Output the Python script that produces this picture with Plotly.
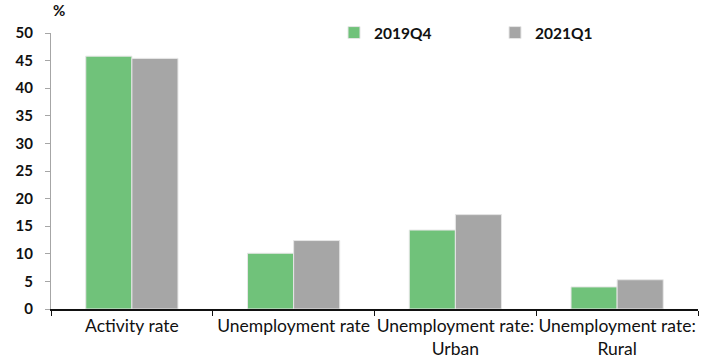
import plotly.graph_objects as go

categories = [
    "Activity rate",
    "Unemployment rate",
    "Unemployment rate:<br>Urban",
    "Unemployment rate:<br>Rural",
]
series_2019q4 = [45.8, 10.1, 14.3, 4.0]
series_2021q1 = [45.4, 12.4, 17.1, 5.3]
y_ticks = [0, 5, 10, 15, 20, 25, 30, 35, 40, 45, 50]

GREEN = "#70C27A"
GREY = "#A6A6A6"
FONT = "Lato"
INK = "#111111"

fig = go.Figure()
fig.add_trace(go.Bar(
    name="2019Q4", x=categories, y=series_2019q4,
    marker=dict(color=GREEN, line=dict(color="#E6E6E6", width=1)),
))
fig.add_trace(go.Bar(
    name="2021Q1", x=categories, y=series_2021q1,
    marker=dict(color=GREY, line=dict(color="#E6E6E6", width=1)),
))

fig.update_layout(
    width=713, height=361,
    margin=dict(l=51, r=15, t=33, b=52, autoexpand=False),
    paper_bgcolor="white", plot_bgcolor="white",
    barmode="group", bargap=0.43, bargroupgap=0,
    font=dict(family=FONT, size=17, color=INK),
    showlegend=True,
    legend=dict(
        orientation="h", xref="container", yref="container",
        x=334 / 713, y=1 - 33 / 361, xanchor="left", yanchor="middle",
        font=dict(family=FONT, size=15.5, color=INK, weight="bold"),
        entrywidth=116, entrywidthmode="pixels",
        itemwidth=30, bgcolor="rgba(0,0,0,0)",
        traceorder="normal",
    ),
    annotations=[dict(
        text="%", x=0, y=1, xref="paper", yref="paper",
        xanchor="left", yanchor="bottom", xshift=0, yshift=12,
        showarrow=False, font=dict(family=FONT, size=15, color=INK, weight="bold"),
    )],
)

fig.update_xaxes(
    type="category", automargin=False, tickangle=0,
    showline=True, linecolor=INK, linewidth=1.5,
    ticks="outside", tickson="boundaries", ticklen=5, tickcolor=INK,
    tickfont=dict(family=FONT, size=17.5, color=INK),
    showgrid=False,
)
fig.update_yaxes(
    range=[0, 50], tickvals=y_ticks, automargin=False,
    showline=True, linecolor=GREY, linewidth=1,
    ticks="outside", ticklen=5, tickcolor=GREY, ticklabelstandoff=9,
    tickfont=dict(family=FONT, size=15, color=INK, weight="bold"),
    showgrid=False, zeroline=False,
)

fig.write_html("out.html")
